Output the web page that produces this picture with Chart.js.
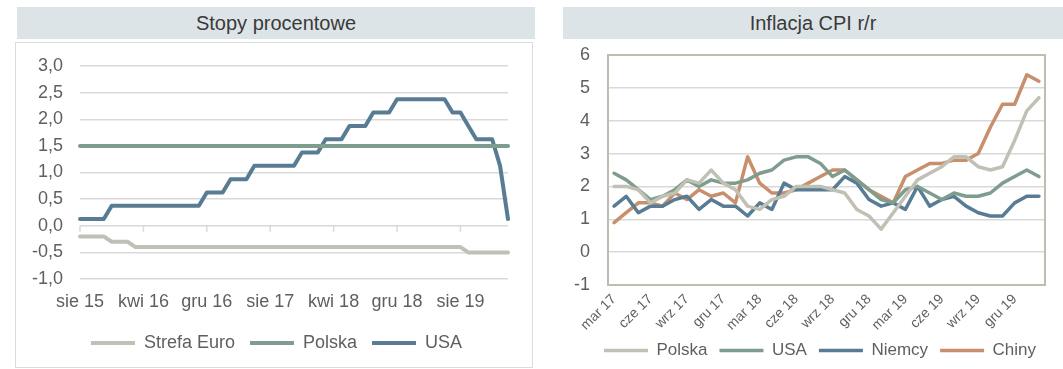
<!DOCTYPE html>
<html>
<head>
<meta charset="utf-8">
<script src="https://cdn.jsdelivr.net/npm/chart.js@4/dist/chart.umd.min.js"></script>
<style>
  body { margin: 0; width: 1063px; height: 369px; background: #fff; position: relative; overflow: hidden; font-family: "Liberation Sans", Arial, sans-serif; }
  .band { position: absolute; top: 7px; height: 32px; background: #dde4e8; color: #3a3a3a; font-size: 20px; line-height: 32px; text-align: center; }
  #box1 { position: absolute; left: 15px; top: 42px; width: 516px; height: 324px; border: 1.5px solid #dcdcdc; }
  canvas { position: absolute; }
</style>
</head>
<body>
<div class="band" style="left:17px; width:518px;">Stopy procentowe</div>
<div class="band" style="left:563px; width:500px;">Inflacja CPI r/r</div>
<div id="box1"></div>
<canvas id="rates" width="502" height="326" style="left:29px; top:42px;"></canvas>
<canvas id="cpi" width="500" height="345" style="left:563px; top:42px;"></canvas>
<script>
// --- stopy procentowe (monthly, sie 15 - lut 20) ---
const rateMonths = [
  'sie 15', 'wrz 15', 'paź 15', 'lis 15', 'gru 15',
  'sty 16', 'lut 16', 'mar 16', 'kwi 16', 'maj 16', 'cze 16', 'lip 16', 'sie 16', 'wrz 16', 'paź 16', 'lis 16', 'gru 16',
  'sty 17', 'lut 17', 'mar 17', 'kwi 17', 'maj 17', 'cze 17', 'lip 17', 'sie 17', 'wrz 17', 'paź 17', 'lis 17', 'gru 17',
  'sty 18', 'lut 18', 'mar 18', 'kwi 18', 'maj 18', 'cze 18', 'lip 18', 'sie 18', 'wrz 18', 'paź 18', 'lis 18', 'gru 18',
  'sty 19', 'lut 19', 'mar 19', 'kwi 19', 'maj 19', 'cze 19', 'lip 19', 'sie 19', 'wrz 19', 'paź 19', 'lis 19', 'gru 19',
  'sty 20', 'lut 20'
];
const euroRate = [
  -0.2, -0.2, -0.2, -0.2, -0.3,
  -0.3, -0.3, -0.4, -0.4, -0.4, -0.4, -0.4, -0.4, -0.4, -0.4, -0.4, -0.4,
  -0.4, -0.4, -0.4, -0.4, -0.4, -0.4, -0.4, -0.4, -0.4, -0.4, -0.4, -0.4,
  -0.4, -0.4, -0.4, -0.4, -0.4, -0.4, -0.4, -0.4, -0.4, -0.4, -0.4, -0.4,
  -0.4, -0.4, -0.4, -0.4, -0.4, -0.4, -0.4, -0.4, -0.5, -0.5, -0.5, -0.5,
  -0.5, -0.5
];
const plRate = [
  1.5, 1.5, 1.5, 1.5, 1.5,
  1.5, 1.5, 1.5, 1.5, 1.5, 1.5, 1.5, 1.5, 1.5, 1.5, 1.5, 1.5,
  1.5, 1.5, 1.5, 1.5, 1.5, 1.5, 1.5, 1.5, 1.5, 1.5, 1.5, 1.5,
  1.5, 1.5, 1.5, 1.5, 1.5, 1.5, 1.5, 1.5, 1.5, 1.5, 1.5, 1.5,
  1.5, 1.5, 1.5, 1.5, 1.5, 1.5, 1.5, 1.5, 1.5, 1.5, 1.5, 1.5,
  1.5, 1.5
];
const usRate = [
  0.125, 0.125, 0.125, 0.125, 0.375,
  0.375, 0.375, 0.375, 0.375, 0.375, 0.375, 0.375, 0.375, 0.375, 0.375, 0.375, 0.625,
  0.625, 0.625, 0.875, 0.875, 0.875, 1.125, 1.125, 1.125, 1.125, 1.125, 1.125, 1.375,
  1.375, 1.375, 1.625, 1.625, 1.625, 1.875, 1.875, 1.875, 2.125, 2.125, 2.125, 2.375,
  2.375, 2.375, 2.375, 2.375, 2.375, 2.375, 2.125, 2.125, 1.875, 1.625, 1.625, 1.625,
  1.125, 0.125
];

// --- inflacja CPI r/r (mar 17 - lut 20) ---
const cpiMonths = [
  'mar 17', 'kwi 17', 'maj 17', 'cze 17', 'lip 17', 'sie 17', 'wrz 17', 'paź 17', 'lis 17', 'gru 17',
  'sty 18', 'lut 18', 'mar 18', 'kwi 18', 'maj 18', 'cze 18', 'lip 18', 'sie 18', 'wrz 18', 'paź 18', 'lis 18', 'gru 18',
  'sty 19', 'lut 19', 'mar 19', 'kwi 19', 'maj 19', 'cze 19', 'lip 19', 'sie 19', 'wrz 19', 'paź 19', 'lis 19', 'gru 19',
  'sty 20', 'lut 20'
];
const cpiPolska = [2.0, 2.0, 1.9, 1.5, 1.7, 1.8, 2.2, 2.1, 2.5, 2.1, 1.9, 1.4, 1.3, 1.6, 1.7, 2.0, 2.0, 2.0, 1.9, 1.8, 1.3, 1.1, 0.7, 1.2, 1.7, 2.2, 2.4, 2.6, 2.9, 2.9, 2.6, 2.5, 2.6, 3.4, 4.3, 4.7];
const cpiUSA = [2.4, 2.2, 1.9, 1.6, 1.7, 1.9, 2.2, 2.0, 2.2, 2.1, 2.1, 2.2, 2.4, 2.5, 2.8, 2.9, 2.9, 2.7, 2.3, 2.5, 2.2, 1.9, 1.6, 1.5, 1.9, 2.0, 1.8, 1.6, 1.8, 1.7, 1.7, 1.8, 2.1, 2.3, 2.5, 2.3];
const cpiNiemcy = [1.4, 1.7, 1.2, 1.4, 1.4, 1.6, 1.7, 1.3, 1.6, 1.4, 1.4, 1.1, 1.5, 1.3, 2.1, 1.9, 1.9, 1.9, 1.9, 2.3, 2.1, 1.6, 1.4, 1.5, 1.3, 2.0, 1.4, 1.6, 1.7, 1.4, 1.2, 1.1, 1.1, 1.5, 1.7, 1.7];
const cpiChiny = [0.9, 1.2, 1.5, 1.5, 1.4, 1.8, 1.6, 1.9, 1.7, 1.8, 1.5, 2.9, 2.1, 1.8, 1.8, 1.9, 2.1, 2.3, 2.5, 2.5, 2.2, 1.9, 1.7, 1.5, 2.3, 2.5, 2.7, 2.7, 2.8, 2.8, 3.0, 3.8, 4.5, 4.5, 5.4, 5.2];

const GREY = '#c0c1b4', GREEN = '#7e9d8e', BLUE = '#587c93', ORANGE = '#c78f6c';
const TXT = '#5f5f5f';
const FONT = 'Liberation Sans';

function line(label, data, color, w) {
  return {
    label: label, data: data, borderColor: color, backgroundColor: color,
    borderWidth: w, pointRadius: 0, tension: 0,
    borderJoinStyle: 'round', borderCapStyle: 'round'
  };
}

function legendOpts(size, pad) {
  return {
    position: 'bottom',
    labels: {
      usePointStyle: true, pointStyle: 'line', pointStyleWidth: 44,
      color: TXT, font: { family: FONT, size: size }, padding: pad
    }
  };
}

// y axis: fixed width, no extra top/bottom padding from the tick labels
function fixY(w) {
  return s => { s.width = w; s.paddingTop = 0; s.paddingBottom = 0; };
}

// move the legend box a little after layout
function legendShift(dx, dy) {
  return {
    id: 'legendShift',
    afterLayout(chart) {
      const l = chart.legend;
      l.left += dx; l.right += dx;
      l.top += dy; l.bottom += dy;
    }
  };
}

// small ticks on the zero line (left chart)
const zeroTicks = {
  id: 'zeroTicks',
  beforeDatasetsDraw(chart) {
    const x = chart.scales.x, y = chart.scales.y;
    const y0 = y.getPixelForValue(0);
    const ctx = chart.ctx;
    ctx.save();
    ctx.strokeStyle = '#d9d9d9';
    ctx.lineWidth = 1.5;
    for (let i = 0; i < rateMonths.length; i += 8) {
      const px = x.getPixelForValue(i);
      ctx.beginPath();
      ctx.moveTo(px, y0);
      ctx.lineTo(px, y0 + 6);
      ctx.stroke();
    }
    ctx.restore();
  }
};

// frame round the plot area (right chart)
const plotFrame = {
  id: 'plotFrame',
  beforeDatasetsDraw(chart) {
    const a = chart.chartArea, ctx = chart.ctx;
    ctx.save();
    ctx.strokeStyle = '#bdbeb0';
    ctx.lineWidth = 2;
    ctx.strokeRect(a.left, a.top, a.right - a.left, a.bottom - a.top);
    ctx.restore();
  }
};

new Chart(document.getElementById('rates'), {
  type: 'line',
  data: {
    labels: rateMonths,
    datasets: [
      line('Strefa Euro', euroRate, GREY, 4),
      line('Polska', plRate, GREEN, 4),
      line('USA', usRate, BLUE, 4)
    ]
  },
  options: {
    responsive: false,
    animation: false,
    layout: { padding: { top: 24, right: 23, bottom: 5, left: 0 } },
    plugins: { legend: legendOpts(18, 15), tooltip: { enabled: false } },
    scales: {
      x: {
        offset: false,
        grid: { display: false, drawTicks: false },
        border: { display: false },
        ticks: {
          autoSkip: false, maxRotation: 0, minRotation: 0, padding: 12,
          color: TXT, font: { family: FONT, size: 18 },
          callback: (v, i) => (i % 8 === 0 ? rateMonths[i] : '')
        },
        afterFit: s => { s.height = 41; }
      },
      y: {
        min: -1, max: 3,
        grid: { color: '#d9d9d9', lineWidth: 1.5, drawTicks: false },
        border: { display: false },
        ticks: {
          stepSize: 0.5, padding: 17,
          color: TXT, font: { family: FONT, size: 18 },
          callback: v => v.toFixed(1).replace('.', ',')
        },
        afterFit: fixY(51)
      }
    }
  },
  plugins: [zeroTicks, legendShift(8, -1)]
});

new Chart(document.getElementById('cpi'), {
  type: 'line',
  data: {
    labels: cpiMonths,
    datasets: [
      line('Polska', cpiPolska, GREY, 3.5),
      line('USA', cpiUSA, GREEN, 3.5),
      line('Niemcy', cpiNiemcy, BLUE, 3.5),
      line('Chiny', cpiChiny, ORANGE, 3.5)
    ]
  },
  options: {
    responsive: false,
    animation: false,
    layout: { padding: { top: 13, right: 18, bottom: 17, left: 0 } },
    plugins: { legend: legendOpts(17, 12), tooltip: { enabled: false } },
    scales: {
      x: {
        offset: true,
        grid: { display: false, drawTicks: false },
        border: { display: false },
        ticks: {
          autoSkip: false, maxRotation: 45, minRotation: 45, padding: 6,
          color: TXT, font: { family: FONT, size: 14 },
          callback: (v, i) => (i % 3 === 0 ? cpiMonths[i] : '')
        },
        afterFit: s => { s.height = 46; }
      },
      y: {
        min: -1, max: 6,
        grid: { color: '#d9d9d9', lineWidth: 1.5, drawTicks: false },
        border: { display: false },
        ticks: { stepSize: 1, padding: 18, color: TXT, font: { family: FONT, size: 18 } },
        afterFit: fixY(45)
      }
    }
  },
  plugins: [plotFrame, legendShift(16, -1)]
});
</script>
</body>
</html>
